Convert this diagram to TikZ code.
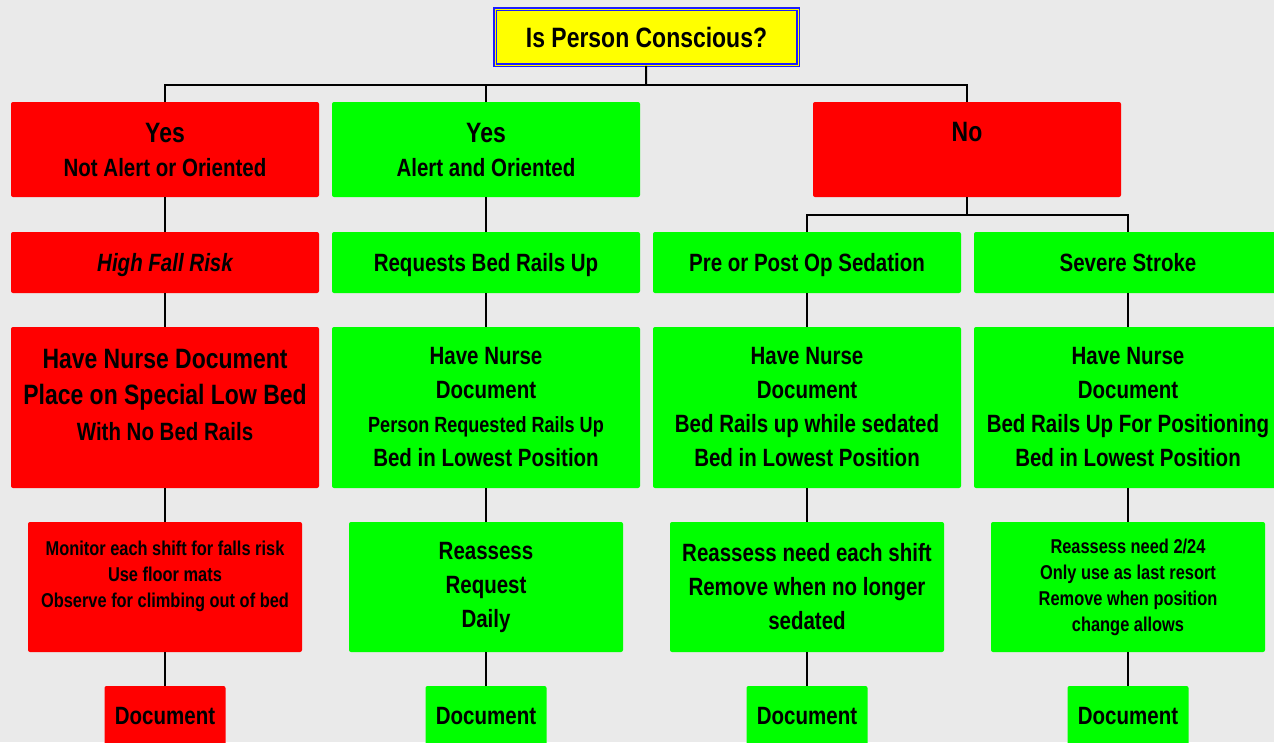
\documentclass[tikz,border=0pt]{standalone}
\usepackage{fontspec}
\setmainfont{Liberation Sans}[FakeStretch=0.82]
\definecolor{bgray}{HTML}{EAEAEA}
\definecolor{rbox}{HTML}{FF0000}
\definecolor{gbox}{HTML}{00FF00}
\definecolor{ybox}{HTML}{FFFF00}
\definecolor{bline}{HTML}{1E1EFF}
\newcommand{\fbig}{\fontsize{28}{36}\selectfont}
\newcommand{\fmid}{\fontsize{25}{34}\selectfont}
\newcommand{\fsmall}{\fontsize{20}{26}\selectfont}
\tikzset{
  box/.style={rectangle, rounded corners=2pt, inner sep=0pt, align=center, font=\bfseries\fmid},
  redbox/.style={box, fill=rbox},
  greenbox/.style={box, fill=gbox},
  wide/.style={minimum width=308pt},
  narrow/.style={minimum width=274pt},
  docwidth/.style={minimum width=121pt, minimum height=60pt},
  tall/.style={minimum height=95pt},
  short/.style={minimum height=61pt, text height=18pt, text depth=0pt},
  big/.style={minimum height=161pt},
  mid/.style={minimum height=130pt},
  topbox/.style={rectangle, fill=ybox, draw=bline, line width=1.6pt, double=ybox, double distance=1pt,
    minimum width=303pt, minimum height=56pt, font=\bfseries\fbig},
  link/.style={draw=black, line width=2pt}
}
\begin{document}
\begin{tikzpicture}[x=1pt,y=-1pt]
\fill[bgray] (0,0) rectangle (1274,742);
\useasboundingbox (0,0) rectangle (1274,742);
\node[topbox] (conscious) at (646.5,37) {Is Person Conscious?};
% first row
\node[redbox,wide,tall] (yesnot) at (165,149.5) {{\fbig Yes}\\Not Alert or Oriented};
\node[greenbox,wide,tall] (yesalert) at (486,149.5) {{\fbig Yes}\\Alert and Oriented};
\node[redbox,wide,tall,font=\bfseries\fbig] (no) at (967,149.5) {No\\~};
% second row
\node[redbox,wide,short] (fallrisk) at (165,262.5) {\itshape High Fall Risk};
\node[greenbox,wide,short] (request) at (486,262.5) {Requests Bed Rails Up};
\node[greenbox,wide,short] (sedation) at (807,262.5) {Pre or Post Op Sedation};
\node[greenbox,wide,short] (stroke) at (1128,262.5) {Severe Stroke};
% third row
\node[redbox,wide,big,font=\bfseries\fbig] (lowbed) at (165,407.5) {Have Nurse Document\\Place on Special Low Bed\\{\fmid With No Bed Rails}\\[-10pt]~};
\node[greenbox,wide,big] (reqdoc) at (486,407.5) {Have Nurse\\Document\\{\fontsize{22}{32}\selectfont Person Requested Rails Up}\\Bed in Lowest Position};
\node[greenbox,wide,big] (sedadoc) at (807,407.5) {Have Nurse\\Document\\Bed Rails up while sedated\\Bed in Lowest Position};
\node[greenbox,wide,big] (strokedoc) at (1128,407.5) {Have Nurse\\Document\\Bed Rails Up For Positioning\\Bed in Lowest Position};
% fourth row
\node[redbox,narrow,mid,font=\bfseries\fsmall] (monitor) at (165,587) {Monitor each shift for falls risk\\Use floor mats\\Observe for climbing out of bed\\~};
\node[greenbox,narrow,mid] (reassess) at (486,587) {Reassess\\Request\\Daily};
\node[greenbox,narrow,mid] (sedcheck) at (807,587) {Reassess need each shift\\Remove when no longer\\sedated};
\node[greenbox,narrow,mid,font=\bfseries\fsmall] (resort) at (1128,587) {Reassess need 2/24\\Only use as last resort\\Remove when position\\change allows};
% last row
\node[redbox,docwidth] (docA) at (165,716) {Document};
\node[greenbox,docwidth] (docB) at (486,716) {Document};
\node[greenbox,docwidth] (docC) at (807,716) {Document};
\node[greenbox,docwidth] (docD) at (1128,716) {Document};
% connectors
\coordinate (topbus) at (646,85);
\draw[link] (conscious) -- (topbus);
\draw[link] (topbus) -| (yesnot);
\draw[link] (topbus) -| (yesalert);
\draw[link] (topbus) -| (no);
\coordinate (nobus) at (967,215);
\draw[link] (no) -- (nobus);
\draw[link] (nobus) -| (sedation);
\draw[link] (nobus) -| (stroke);
\draw[link] (yesnot) -- (fallrisk);
\draw[link] (fallrisk) -- (lowbed);
\draw[link] (lowbed) -- (monitor);
\draw[link] (monitor) -- (docA);
\draw[link] (yesalert) -- (request);
\draw[link] (request) -- (reqdoc);
\draw[link] (reqdoc) -- (reassess);
\draw[link] (reassess) -- (docB);
\draw[link] (sedation) -- (sedadoc);
\draw[link] (sedadoc) -- (sedcheck);
\draw[link] (sedcheck) -- (docC);
\draw[link] (stroke) -- (strokedoc);
\draw[link] (strokedoc) -- (resort);
\draw[link] (resort) -- (docD);
\end{tikzpicture}
\end{document}
